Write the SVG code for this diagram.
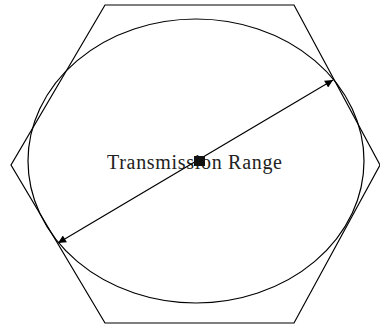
<svg xmlns="http://www.w3.org/2000/svg" width="380" height="330" viewBox="0 0 380 330">
<style>
.s{fill:none;stroke:#000;stroke-width:1.2}
.t{font-family:"Liberation Serif",serif;font-size:20px;fill:#222}
</style>
<defs>
<marker id="ah" viewBox="0 0 10 10" refX="10" refY="5" markerWidth="12" markerHeight="8" markerUnits="userSpaceOnUse" orient="auto-start-reverse">
<path d="M0,0 L10,5 L0,10 Z" fill="#000"/>
</marker>
</defs>
<rect width="380" height="330" fill="#fff"/>
<g id="cell">
<polygon class="s" points="105,5 294,5 380,165 294,323 105,323 11,165"/>
</g>
<g id="range">
<ellipse class="s" cx="196" cy="161" rx="168" ry="142"/>
</g>
<g id="label">
<text class="t" x="107" y="169" textLength="175" lengthAdjust="spacing">Transmission Range</text>
</g>
<g id="connectors">
<line class="s" x1="58" y1="243" x2="333" y2="80" marker-start="url(#ah)" marker-end="url(#ah)"/>
</g>
<g id="node">
<rect x="194" y="156" width="11" height="10" fill="#111"/>
</g>
</svg>
